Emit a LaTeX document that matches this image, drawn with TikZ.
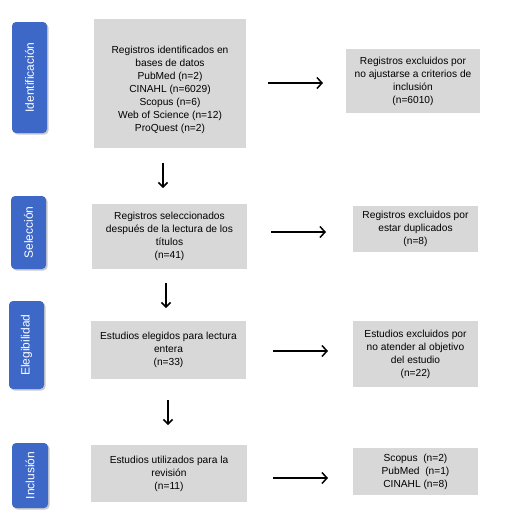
\documentclass[tikz,border=0pt]{standalone}
\usepackage{fontspec}
\setmainfont{Liberation Sans}
\usetikzlibrary{arrows.meta,shadows}
\definecolor{boxgray}{RGB}{216,216,216}
\definecolor{phaseblue}{RGB}{62,104,200}
\tikzset{
  box/.style={fill=boxgray, draw=none, align=center, inner sep=2pt,
    font=\fontsize{10.2}{13}\selectfont},
  boxtext/.style={align=center, inner sep=0pt, font=\fontsize{10.2}{13}\selectfont},
  phase/.style={fill=phaseblue, draw=none, rounded corners=4pt, text=white,
    rotate=90, font=\fontsize{12}{14}\selectfont,
    drop shadow={shadow xshift=1.5pt, shadow yshift=-1.5pt, fill=black!35, opacity=0.6}},
  harr/.style={line width=1.5pt, -{Straight Barb[length=5pt,width=11pt]}},
  varr/.style={line width=1.5pt, -{Straight Barb[length=4.5pt,width=9pt]}}
}
\begin{document}
\begin{tikzpicture}[x=1pt,y=-1pt]
\useasboundingbox (0,0) rectangle (518,528);
% phase labels
\node[phase, minimum width=111, minimum height=35] (L1) at (29.5,77.5) {Identificación};
\node[phase, minimum width=73, minimum height=35] (L2) at (28.5,232.5) {Selección};
\node[phase, minimum width=88, minimum height=35] (L3) at (26.5,345) {Elegibilidad};
\node[phase, minimum width=65, minimum height=36] (L4) at (30,475.5) {Inclusión};
% main boxes
\node[box, minimum width=152, minimum height=129] (B1) at (170,83.5) {};
\node[boxtext] (B1t) at (170,89.5) {Registros identificados en\\bases de datos\\PubMed (n=2)\\CINAHL (n=6029)\\Scopus (n=6)\\Web of Science (n=12)\\ProQuest (n=2)};
\node[box, minimum width=155, minimum height=65] (B2) at (169.5,236.5) {Registros seleccionados\\después de la lectura de los\\títulos\\(n=41)};
\node[box, minimum width=155, minimum height=58] (B3) at (168.5,350) {Estudios elegidos para lectura\\entera\\(n=33)};
\node[box, minimum width=156, minimum height=57] (B4) at (169,473.5) {Estudios utilizados para la\\revisión\\(n=11)};
% right boxes
\node[box, minimum width=134, minimum height=64] (R1) at (413,81) {Registros excluidos por\\no ajustarse a criterios de\\inclusión\\(n=6010)};
\node[box, minimum width=125, minimum height=46] (R2) at (415.5,229) {Registros excluidos por\\estar duplicados\\(n=8)};
\node[box, minimum width=125, minimum height=66] (R3) at (415.5,354) {Estudios excluidos por\\no atender al objetivo\\del estudio\\(n=22)};
\node[box, minimum width=125, minimum height=47] (R4) at (415.5,471.5) {Scopus\ \ (n=2)\\PubMed\ \ (n=1)\\CINAHL (n=8)};
% arrow end points
\coordinate (h1a) at (268,83); \coordinate (h1b) at (323,83);
\coordinate (h2a) at (271,232); \coordinate (h2b) at (326,232);
\coordinate (h3a) at (273,351); \coordinate (h3b) at (328,351);
\coordinate (h4a) at (273,478); \coordinate (h4b) at (328,478);
\coordinate (v1a) at (163,163); \coordinate (v1b) at (163,188);
\coordinate (v2a) at (166,283); \coordinate (v2b) at (166,308);
\coordinate (v3a) at (168,400); \coordinate (v3b) at (168,425);
\draw[harr] (h1a) -- (h1b);
\draw[harr] (h2a) -- (h2b);
\draw[harr] (h3a) -- (h3b);
\draw[harr] (h4a) -- (h4b);
\draw[varr] (v1a) -- (v1b);
\draw[varr] (v2a) -- (v2b);
\draw[varr] (v3a) -- (v3b);
\end{tikzpicture}
\end{document}
